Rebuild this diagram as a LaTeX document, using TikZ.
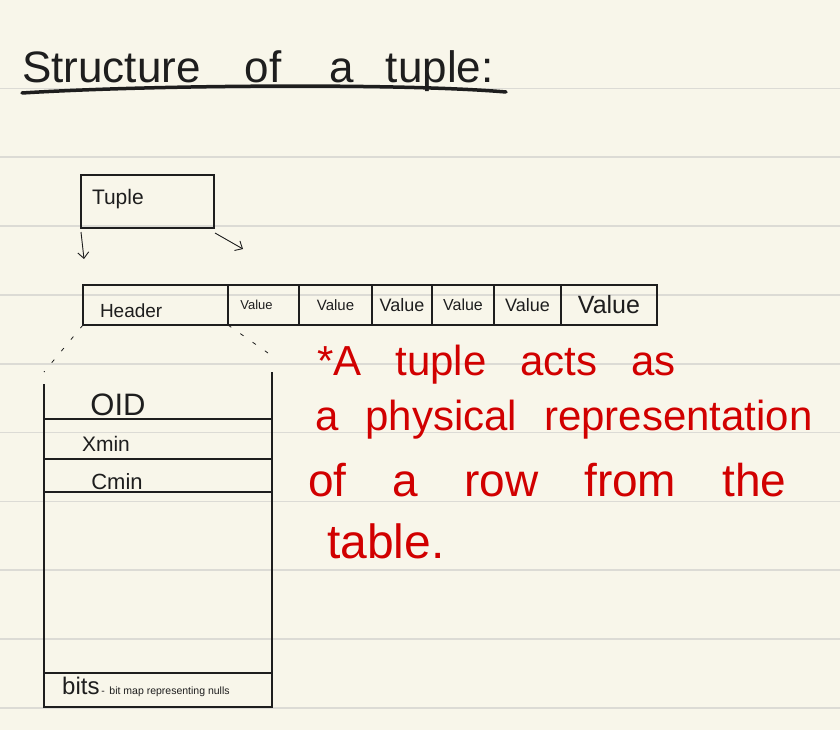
\documentclass[tikz,border=0pt]{standalone}
\usepackage{fontspec}
\setmainfont{Liberation Sans}
\usetikzlibrary{arrows.meta}
\definecolor{paper}{HTML}{F8F6EA}
\definecolor{ruled}{HTML}{DCDBD5}
\definecolor{ink}{HTML}{1E1E1E}
\definecolor{redink}{HTML}{D10000}
\newcommand{\fs}[1]{\fontsize{#1}{#1}\selectfont}
\newcommand{\wsp}[1]{\spaceskip#1\relax}
\newcommand{\lowered}[2]{\raisebox{-#1}[0pt][0pt]{#2}}
\begin{document}
\begin{tikzpicture}[x=1pt,y=-1pt,
  boxline/.style={draw=ink,line width=1.4pt},
  cellbox/.style={boxline,inner sep=0pt,outer sep=0pt,minimum height=40pt,anchor=north west,text=ink},
  arr/.style={draw=ink,line width=0.9pt,-{Straight Barb[length=6pt,width=11pt]}},
  dashline/.style={draw=ink,line width=0.8pt,dash pattern=on 4pt off 11pt},
  field/.style={inner sep=0pt,text=ink},
  note/.style={inner sep=0pt,anchor=base west,text=redink}]
\fill[paper] (0,0) rectangle (840,730);
\useasboundingbox (0,0) rectangle (840,730);
\foreach \k in {0,...,9}
  \draw[ruled,line width=1.6pt] (0,88.5+68.8*\k) -- (840,88.5+68.8*\k);

% title
\node[inner sep=0pt,anchor=base west,text=ink,font=\fs{44}] (title) at (22,83)
  {Structure\hspace{44pt}of\hspace{48pt}a\hspace{32pt}tuple:};
\draw[ink,line width=3.5pt,line cap=round] (22,93) .. controls (150,85) and (400,83) .. (506,92);

% tuple box
\node[boxline,anchor=north west,outer sep=0pt,minimum width=133pt,minimum height=53pt,
  text width=111pt,inner xsep=11pt,inner ysep=0pt,align=left,font=\fs{21},text=ink]
  (tuple) at (81,175) {\lowered{3pt}{Tuple}};

% header and values row
\node[cellbox,minimum width=145pt,text width=125pt,inner xsep=10pt,align=left,font=\fs{19}]
  (header) at (83,285) {\hspace*{7pt}\lowered{12pt}{Header}};
\node[cellbox,minimum width=71pt,font=\fs{13}]  (v1) at (header.north east) {\hspace*{-14pt}Value};
\node[cellbox,minimum width=73pt,font=\fs{15}]  (v2) at (v1.north east) {Value};
\node[cellbox,minimum width=60pt,font=\fs{18}]  (v3) at (v2.north east) {Value};
\node[cellbox,minimum width=62pt,font=\fs{16}]  (v4) at (v3.north east) {Value};
\node[cellbox,minimum width=67pt,font=\fs{18}]  (v5) at (v4.north east) {Value};
\node[cellbox,minimum width=96pt,font=\fs{25}]  (v6) at (v5.north east) {\lowered{8pt}{Value}};

% arrows from tuple
\coordinate (a1e) at (84,259);
\coordinate (a2e) at (243,249);
\draw[arr] ([yshift=-4pt]tuple.south west) -- (a1e);
\draw[arr] ([xshift=1pt,yshift=-5pt]tuple.south east) -- (a2e);

% header detail
\coordinate (dl) at (44,372);
\coordinate (dr) at (268,353);
\draw[dashline] (header.south west) -- (dl);
\draw[dashline] (header.south east) -- (dr);

\draw[boxline] (44,384) -- (44,707) -- (272,707) -- (272,372);
\draw[boxline] (44,419) -- (272,419);
\draw[boxline] (44,459) -- (272,459);
\draw[boxline] (44,492) -- (272,492);
\draw[boxline] (44,673) -- (272,673);

\node[field,font=\fs{31}] (oid) at (118,405) {OID};
\node[field,font=\fs{21}] (xmin) at (106,444) {Xmin};
\node[field,font=\fs{22}] (cmin) at (117,482) {Cmin};
\node[field,anchor=base west] (bits) at (62,694)
  {{\fs{24}bits}{\fs{10.5}\,-\, bit map representing nulls}};

% red note
\node[note,font=\fs{42}\wsp{34pt}] (n1) at (317,375) {*A tuple acts as};
\node[note,font=\fs{42}\wsp{27pt}] (n2) at (315,430) {a physical representation};
\node[note,font=\fs{46}\wsp{46pt}] (n3) at (308,496) {of a row from the};
\node[note,font=\fs{48}] (n4) at (327,558) {table.};
\end{tikzpicture}
\end{document}
